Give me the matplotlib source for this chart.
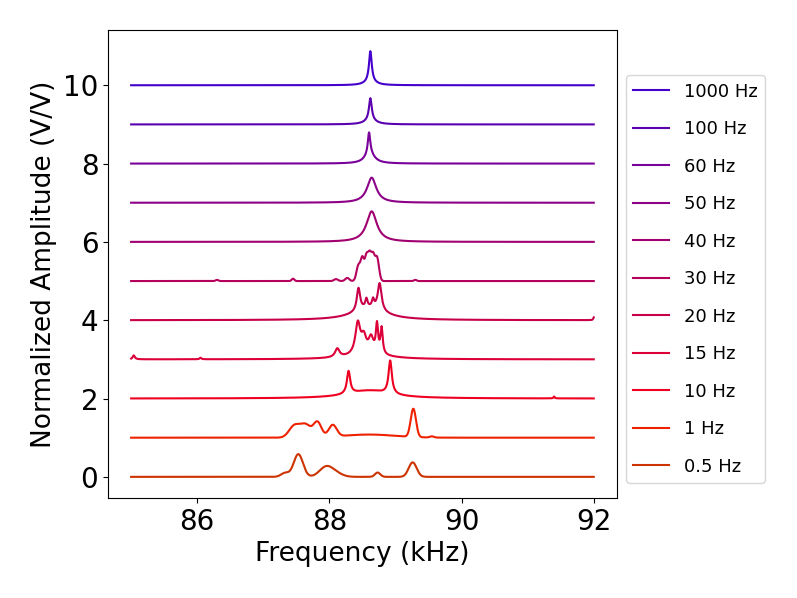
import numpy as np
import matplotlib
matplotlib.use("Agg")
import matplotlib.pyplot as plt

# drive frequencies, top trace first
labels = ["1000 Hz", "100 Hz", "60 Hz", "50 Hz", "40 Hz", "30 Hz",
          "20 Hz", "15 Hz", "10 Hz", "1 Hz", "0.5 Hz"]
offsets = [10, 9, 8, 7, 6, 5, 4, 3, 2, 1, 0]
colors = ["#4400cc", "#5a00b0", "#7a009a", "#8c0088", "#a00070", "#b5005c",
          "#c8004a", "#dd0038", "#ee0020", "#ee2200", "#cc3300"]

# peaks: centre (kHz), height (V/V), width (kHz)
centers = [
    [88.62, 88.62],
    [88.62, 88.62],
    [88.60, 88.61],
    [88.64],
    [88.64],
    [88.44, 88.50, 88.56, 88.61, 88.66, 88.72, 87.45, 88.10, 88.27, 86.30, 89.30],
    [88.60, 88.44, 88.56, 88.66, 88.76, 92.00],
    [88.60, 88.43, 88.52, 88.63, 88.72, 88.79, 88.12, 85.04, 86.05],
    [88.60, 88.29, 88.92, 91.40],
    [88.60, 87.47, 87.64, 87.82, 88.05, 89.27, 89.55],
    [87.33, 87.53, 87.95, 88.10, 88.73, 89.26],
]
heights = [
    [0.78, 0.09],
    [0.56, 0.11],
    [0.55, 0.25],
    [0.64],
    [0.78],
    [0.40, 0.55, 0.60, 0.62, 0.58, 0.60, 0.06, 0.05, 0.08, 0.03, 0.03],
    [0.30, 0.58, 0.22, 0.20, 0.70, 0.07],
    [0.10, 0.80, 0.40, 0.40, 0.72, 0.66, 0.22, 0.10, 0.04],
    [0.20, 0.58, 0.85, 0.05],
    [0.08, 0.30, 0.32, 0.38, 0.30, 0.72, 0.03],
    [0.10, 0.58, 0.25, 0.08, 0.11, 0.37],
]
widths = [
    [0.025, 0.10],
    [0.025, 0.10],
    [0.022, 0.09],
    [0.085],
    [0.095],
    [0.030, 0.025, 0.025, 0.025, 0.025, 0.030, 0.02, 0.03, 0.03, 0.02, 0.02],
    [0.30, 0.030, 0.020, 0.020, 0.035, 0.010],
    [0.40, 0.045, 0.045, 0.045, 0.020, 0.020, 0.04, 0.02, 0.015],
    [0.40, 0.030, 0.030, 0.010],
    [0.40, 0.080, 0.080, 0.060, 0.060, 0.040, 0.03],
    [0.06, 0.070, 0.100, 0.100, 0.040, 0.060],
]
gaussian = [False, False, False, False, False, True, False, False, False, True, True]

freq = np.linspace(85, 92, 1401)

fig = plt.figure(figsize=(7.97, 5.98), dpi=100)
ax = fig.add_axes([0.1355, 0.167, 0.6385, 0.783])

for i in range(len(labels)):
    y = np.full_like(freq, float(offsets[i]))
    for c, h, w in zip(centers[i], heights[i], widths[i]):
        if gaussian[i]:
            y += h * np.exp(-0.5 * ((freq - c) / w) ** 2)
        else:
            y += h / (1 + ((freq - c) / w) ** 2)
    ax.plot(freq, y, color=colors[i], lw=1.5, label=labels[i])

ax.set_xticks([86, 88, 90, 92])
ax.set_yticks([0, 2, 4, 6, 8, 10])
ax.tick_params(labelsize=20)
ax.set_xlabel("Frequency (kHz)", fontsize=19)
ax.set_ylabel("Normalized Amplitude (V/V)", fontsize=19)
ax.legend(loc="center left", bbox_to_anchor=(1.0, 0.468), fontsize=13,
          labelspacing=1.08)

fig.savefig("out.png", dpi=100)
